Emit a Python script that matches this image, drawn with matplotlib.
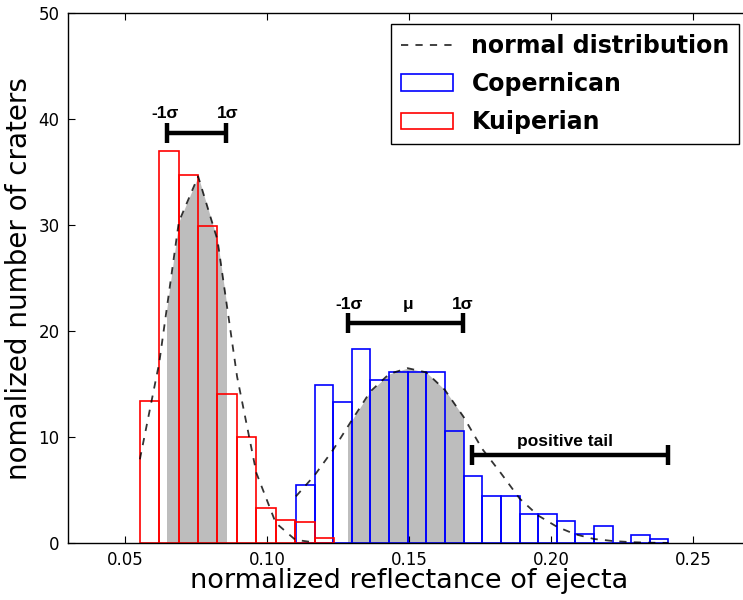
import numpy as np
import matplotlib
matplotlib.use('Agg')
import matplotlib.pyplot as plt
from matplotlib.patches import Rectangle

# histogram bin edges and heights
kuip_edges = [0.0553, 0.0621, 0.0690, 0.0758, 0.0826, 0.0895, 0.0963, 0.1031,
              0.1100, 0.1168, 0.1236]
kuip_counts = [13.4, 37.0, 34.7, 29.9, 14.1, 10.0, 3.3, 2.2, 1.95, 0.45]

cop_edges = [0.1102, 0.1168, 0.1233, 0.1299, 0.1364, 0.1430, 0.1495, 0.1561,
             0.1626, 0.1692, 0.1757, 0.1823, 0.1889, 0.1954, 0.2020, 0.2085,
             0.2151, 0.2216, 0.2282, 0.2347, 0.2413]
cop_counts = [5.5, 14.95, 13.3, 18.35, 15.35, 16.1, 16.1, 16.1, 10.6, 6.35,
              4.43, 4.43, 2.74, 2.74, 2.07, 0.82, 1.6, 0.0, 0.75, 0.42]

# normal curves, sampled at the bin edges
kuip_norm = [7.9, 17.0, 30.3, 34.6, 28.6, 15.7, 6.6, 1.9, 0.3, 0.05]
cop_norm = [4.4, 6.4, 8.8, 11.6, 14.3, 15.95, 16.5, 16.1, 14.45, 11.9, 8.9,
            6.6, 4.2, 2.6, 1.54, 0.82, 0.38, 0.19, 0.08, 0.03, 0.01]

# +-1 sigma ranges and the tail
kuip_sigma = [0.0647, 0.0856]
cop_sigma = [0.1284, 0.1691]
cop_mu = 0.1495
tail = [0.1721, 0.2413]

fig = plt.figure(figsize=(7.43, 6.0), dpi=100)
ax = fig.add_axes([0.0915, 0.095, 0.918, 0.883])

# shaded area under the curves within 1 sigma
for xs, ys, sig in [(kuip_edges[:len(kuip_norm)], kuip_norm, kuip_sigma),
                    (cop_edges, cop_norm, cop_sigma)]:
    poly = ax.fill_between(xs, ys, color='0.74', lw=0, zorder=1)
    clip = Rectangle((sig[0], 0), sig[1] - sig[0], 50, transform=ax.transData)
    poly.set_clip_path(clip)

ax.bar(cop_edges[:-1], cop_counts, width=np.diff(cop_edges), align='edge',
       fill=False, edgecolor='b', lw=1.2, zorder=2, label='Copernican')
ax.bar(kuip_edges[:-1], kuip_counts, width=np.diff(kuip_edges), align='edge',
       fill=False, edgecolor='r', lw=1.2, zorder=2, label='Kuiperian')

ax.plot(kuip_edges[:len(kuip_norm)], kuip_norm, 'k--', lw=1.3, alpha=0.8,
        zorder=3, dashes=(4, 4), label='normal distribution')
ax.plot(cop_edges, cop_norm, 'k--', lw=1.3, alpha=0.8, dashes=(4, 4), zorder=3)

# annotation bars
def range_bar(x0, x1, y):
    ax.plot([x0, x1], [y, y], 'k-', lw=3.2, zorder=4, solid_capstyle='butt')
    ax.plot([x0, x1], [y, y], 'k|', ms=14, mew=3.2, zorder=4)

afont = dict(family='Liberation Sans', weight='bold', fontsize=12.5,
             ha='center', va='bottom')
range_bar(kuip_sigma[0], kuip_sigma[1], 38.7)
ax.text(kuip_sigma[0] - 0.0007, 39.8, '-1σ', **afont)
ax.text(kuip_sigma[1] + 0.0007, 39.8, '1σ', **afont)

range_bar(cop_sigma[0], cop_sigma[1], 20.8)
ax.text(cop_sigma[0] + 0.0005, 21.8, '-1σ', **afont)
ax.text(cop_mu, 21.8, 'μ', **afont)
ax.text(cop_sigma[1] - 0.0003, 21.8, '1σ', **afont)

range_bar(tail[0], tail[1], 8.3)
ax.text(0.2049, 8.85, 'positive tail', **afont)

ax.set_xlim(0.03, 0.27)
ax.set_ylim(0, 50)
ax.set_xticks([0.05, 0.10, 0.15, 0.20, 0.25])
ax.set_xticklabels(['0.05', '0.10', '0.15', '0.20', '0.25'])
ax.set_yticks([0, 10, 20, 30, 40, 50])
ax.tick_params(direction='in', top=True, right=True, length=5,
               labelsize=12, pad=6)
for s in ax.spines.values():
    s.set_linewidth(1.0)

ax.set_xlabel('normalized reflectance of ejecta', fontsize=19.5, labelpad=-1)
ax.set_ylabel('nomalized number of craters', fontsize=20, labelpad=4)

h, l = ax.get_legend_handles_labels()
ax.legend(h, l, loc='upper right', borderaxespad=0,
          bbox_to_anchor=(0.984, 0.979), prop={'weight': 'bold', 'size': 17},
          fancybox=False, edgecolor='k', framealpha=1, handlelength=2.2,
          handletextpad=0.8, labelspacing=0.6, borderpad=0.4)

plt.savefig('out.png', dpi=100)
